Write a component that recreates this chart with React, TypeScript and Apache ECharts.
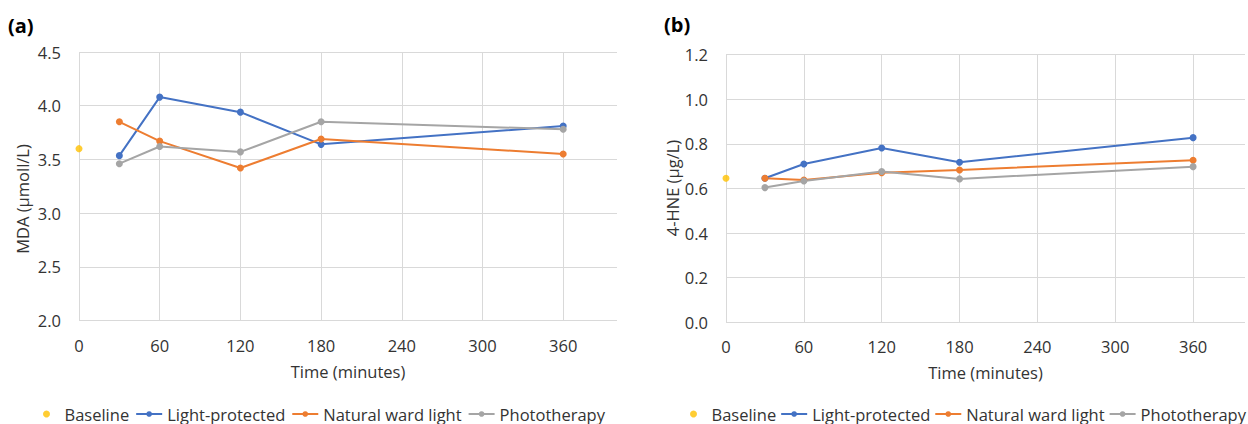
import React, { useEffect, useRef } from "react";
import * as echarts from "echarts";

const timesMin = [30, 60, 120, 180, 360];
const baselineTime = [0];
const xTickLabels = ["0", "60", "120", "180", "240", "300", "360"];

const mdaBaseline = [3.6];
const mdaLightProtected = [3.535, 4.08, 3.94, 3.64, 3.81];
const mdaNaturalWard = [3.85, 3.67, 3.42, 3.69, 3.55];
const mdaPhototherapy = [3.46, 3.62, 3.57, 3.85, 3.78];

const hneBaseline = [0.646];
const hneLightProtected = [0.646, 0.71, 0.782, 0.718, 0.828];
const hneNaturalWard = [0.646, 0.638, 0.671, 0.683, 0.727];
const hnePhototherapy = [0.604, 0.634, 0.676, 0.643, 0.698];

const seriesNames = ["Baseline", "Light-protected", "Natural ward light", "Phototherapy"];
const colors = ["#FFC000", "#4472C4", "#ED7D31", "#A5A5A5"];

const FONT = "Open Sans";
const FS = 16.5;
const TXT = "#333333";
const GRID = "#d9d9d9";

const pair = (xs: number[], ys: number[]) => xs.map((x, i) => [x, ys[i]]);

export default function App() {
  const ref = useRef<HTMLDivElement>(null);
  useEffect(() => {
    if (!ref.current) return;
    const chart = echarts.init(ref.current, undefined, { renderer: "svg" });
    const xAxisBase = (gridIndex: number) => ({
      type: "value",
      gridIndex,
      min: 0,
      max: 400,
      interval: 60,
      name: "Time (minutes)",
      nameLocation: "middle",
      nameGap: 42,
      nameTextStyle: { fontFamily: FONT, fontSize: FS, color: TXT },
      axisLine: { show: false },
      axisTick: { show: false },
      axisLabel: {
        margin: 16,
        fontFamily: FONT,
        fontSize: FS,
        color: TXT,
        formatter: (v: number) => (xTickLabels.includes(String(v)) ? String(v) : ""),
      },
      splitLine: { show: true, showMaxLine: false, lineStyle: { color: GRID, width: 1 } },
    });
    const yAxisBase = (gridIndex: number, min: number, max: number, interval: number) => ({
      type: "value",
      gridIndex,
      min,
      max,
      interval,
      axisLine: { show: false },
      axisTick: { show: false },
      axisLabel: {
        margin: 18,
        fontFamily: FONT,
        fontSize: FS,
        color: TXT,
        formatter: (v: number) => v.toFixed(1),
      },
      splitLine: { show: true, lineStyle: { color: GRID, width: 1 } },
    });
    const lineSeries = (name: string, idx: number, data: number[], color: string) => ({
      name,
      type: "line",
      xAxisIndex: idx,
      yAxisIndex: idx,
      data: pair(timesMin, data),
      symbol: "circle",
      symbolSize: 7,
      lineStyle: { color, width: 2 },
      itemStyle: { color },
      color,
      z: 3,
    });
    const baseSeries = (idx: number, data: number[]) => ({
      name: "Baseline",
      type: "scatter",
      xAxisIndex: idx,
      yAxisIndex: idx,
      data: pair(baselineTime, data),
      symbol: "circle",
      symbolSize: 7,
      itemStyle: { color: colors[0] },
      color: colors[0],
      z: 4,
    });
    const legendBase = (left: number, gap: number) => ({
      left,
      top: 405,
      width: 620,
      padding: 0,
      orient: "horizontal",
      itemWidth: 26,
      itemHeight: 7,
      itemGap: gap,
      data: seriesNames,
      textStyle: { fontFamily: FONT, fontSize: FS, color: TXT, lineHeight: 18 },
    });
    chart.setOption({
      animation: false,
      grid: [
        { left: 79, top: 52, width: 538, height: 268.5, containLabel: false },
        { left: 726, top: 54.7, width: 532, height: 267.6, containLabel: false },
      ],
      xAxis: [xAxisBase(0), xAxisBase(1)],
      yAxis: [yAxisBase(0, 2, 4.5, 0.5), yAxisBase(1, 0, 1.2, 0.2)],
      legend: [legendBase(43, 6), legendBase(690, 4)],
      series: [
        baseSeries(0, mdaBaseline),
        lineSeries("Light-protected", 0, mdaLightProtected, colors[1]),
        lineSeries("Natural ward light", 0, mdaNaturalWard, colors[2]),
        lineSeries("Phototherapy", 0, mdaPhototherapy, colors[3]),
        baseSeries(1, hneBaseline),
        lineSeries("Light-protected", 1, hneLightProtected, colors[1]),
        lineSeries("Natural ward light", 1, hneNaturalWard, colors[2]),
        lineSeries("Phototherapy", 1, hnePhototherapy, colors[3]),
      ],
      graphic: [
        {
          type: "text",
          left: 8,
          top: 15,
          style: { text: "(a)", fontFamily: FONT, fontSize: 20, fontWeight: "bold", fill: "#000" },
        },
        {
          type: "text",
          left: 664,
          top: 14,
          style: { text: "(b)", fontFamily: FONT, fontSize: 20, fontWeight: "bold", fill: "#000" },
        },
        {
          type: "text",
          x: 22,
          y: 199,
          rotation: Math.PI / 2,
          style: {
            text: "MDA (μmoll/L)",
            fontFamily: FONT,
            fontSize: FS,
            fill: TXT,
            textAlign: "center",
            textVerticalAlign: "middle",
          },
        },
        {
          type: "text",
          x: 672,
          y: 188,
          rotation: Math.PI / 2,
          style: {
            text: "4-HNE (μg/L)",
            fontFamily: FONT,
            fontSize: FS,
            fill: TXT,
            textAlign: "center",
            textVerticalAlign: "middle",
          },
        },
      ],
    });
    return () => chart.dispose();
  }, []);
  return (
    <div
      ref={ref}
      style={{ position: "absolute", left: 0, top: 0, width: 1248, height: 424, background: "#fff" }}
    />
  );
}
